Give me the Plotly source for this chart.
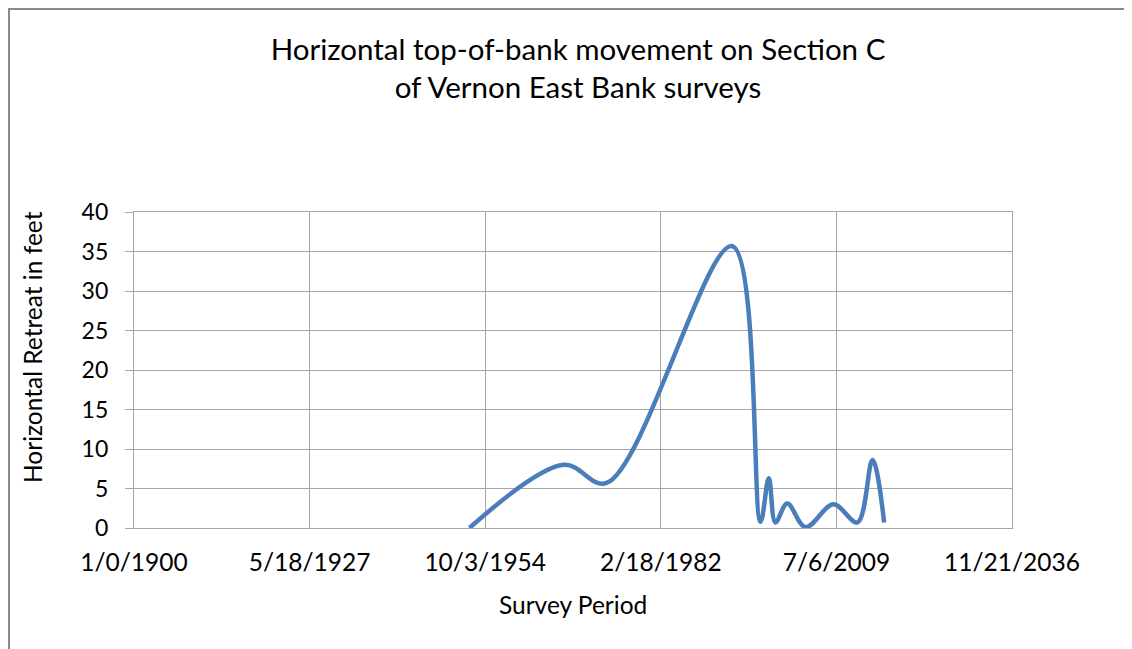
import plotly.graph_objects as go

# Survey dates as Excel serial day numbers (1/0/1900 = 0)
survey_serial = [19103, 24474, 26914, 34057, 35674, 36150, 36531, 37200, 38246, 39829, 41200, 42057, 42720]
retreat_ft = [0.0, 8.0, 5.7, 35.7, 0.8, 6.3, 0.7, 3.1, 0.1, 3.0, 0.7, 8.6, 0.7]

x_tick_vals = [0, 10000, 20000, 30000, 40000, 50000]
x_tick_text = ["1/0/1900", "5/18/1927", "10/3/1954", "2/18/1982", "7/6/2009", "11/21/2036"]
y_tick_vals = [0, 5, 10, 15, 20, 25, 30, 35, 40]

# page body has an 8px margin; work in screenshot coordinates and shift
OFF = 8
W, H = 1132 - OFF, 649 - OFF
L, R, T, B = 134 - OFF, 1012 - OFF, 212 - OFF, 528 - OFF

FONT = "Lato"
GRID = "#a6a6a6"

fig = go.Figure()
fig.add_trace(go.Scatter(
    x=survey_serial, y=retreat_ft, mode="lines",
    line=dict(color="#4a7ebb", width=4.5, shape="spline", smoothing=1.0),
    showlegend=False, hoverinfo="x+y",
))

def px_x(px):
    return (px - OFF - L) / (R - L)

def px_y(py):
    return (B - (py - OFF)) / (B - T)

fig.update_layout(
    width=W, height=H,
    margin=dict(l=L, r=W - R, t=T, b=H - B, pad=0),
    paper_bgcolor="white", plot_bgcolor="white",
    font=dict(family=FONT, color="#000000", size=22),
    title=dict(
        text="Horizontal top-of-bank movement on Section C<br>of Vernon East Bank surveys",
        x=(578 - OFF) / W, xref="container", xanchor="center",
        y=1 - 52 / H, yref="container", yanchor="top",
        font=dict(family=FONT, size=29.5, color="#000000"),
    ),
    xaxis=dict(
        range=[0, 50000], tickmode="array", tickvals=x_tick_vals, ticktext=x_tick_text,
        showgrid=True, gridcolor=GRID, gridwidth=1.3,
        showline=True, linecolor=GRID, linewidth=1.3, mirror=True,
        zeroline=False, ticks="", ticklabelstandoff=12,
        tickfont=dict(family=FONT, size=24.5, color="#000000"),
    ),
    yaxis=dict(
        range=[0, 40], tickmode="array", tickvals=y_tick_vals,
        showgrid=True, gridcolor=GRID, gridwidth=1.3,
        showline=True, linecolor=GRID, linewidth=1.3, mirror=True,
        zeroline=False, ticks="outside", ticklen=8, tickcolor=GRID, tickwidth=1.3,
        ticklabelstandoff=12,
        tickfont=dict(family=FONT, size=23, color="#000000"),
    ),
    annotations=[
        dict(text="Survey Period", xref="paper", yref="paper",
             x=px_x(573), y=px_y(604), xanchor="center", yanchor="middle",
             showarrow=False, font=dict(family=FONT, size=24.5, color="#000000")),
        dict(text="Horizontal Retreat in feet", xref="paper", yref="paper",
             x=px_x(32), y=px_y(347), xanchor="center", yanchor="middle", textangle=-90,
             showarrow=False, font=dict(family=FONT, size=24.5, color="#000000")),
    ],
    shapes=[
        dict(type="rect", xref="paper", yref="paper",
             x0=px_x(8.5), y0=px_y(700), x1=px_x(1200), y1=px_y(8.5),
             line=dict(color="#8a8a8a", width=3), fillcolor="rgba(0,0,0,0)", layer="below"),
    ],
)

fig.write_html("out.html")
